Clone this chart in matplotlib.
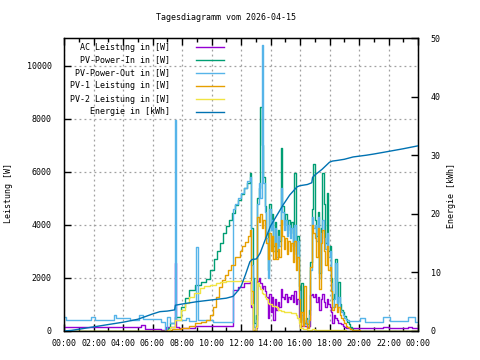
import numpy as np
import matplotlib
matplotlib.use('Agg')
import matplotlib.pyplot as plt
from matplotlib.lines import Line2D

plt.rcParams['font.family'] = ['DejaVu Sans Mono']
plt.rcParams['font.size'] = 6

#
# Data (hours of day)
#
title = 'Tagesdiagramm vom 2026-04-15'
labels = ['AC Leistung in [W]', 'PV-Power-In in [W]', 'PV-Power-Out in [W]',
          'PV-1 Leistung in [W]', 'PV-2 Leistung in [W]', 'Energie in [kWh]']
colors = ['#9400d3', '#009e73', '#56b4e9', '#e69f00', '#f0e442', '#0072b2']
xtick_labels = ['00:00', '02:00', '04:00', '06:00', '08:00', '10:00', '12:00',
                '14:00', '16:00', '18:00', '20:00', '22:00', '00:00']

# common midday time grid 12.6 .. 19.5 h
t_mid = np.round(np.arange(12.6, 19.55, 0.1), 2)

# AC Leistung
ac_t0 = [0, 5.2, 5.5, 6.6, 6.9, 7.5, 7.62, 7.8, 8.9, 11.43, 11.8, 12.2]
ac_v0 = [160, 210, 80, 20, 160, 2550, 160, 100, 190, 1550, 1650, 1800]
ac_mid = [1900, 900, 0, 0, 100, 1900, 2000, 1800, 1600, 1700, 1500, 1300, 500, 1400, 700, 1300, 400,
          1200, 800, 1100, 900, 1600, 1300, 1200, 1400, 1100, 1300, 1200, 1350, 1100, 1500, 1000, 1200, 400,
          200, 200, 250, 200, 200, 150, 200, 1350, 1400, 1300, 1400, 1100, 1300, 800, 1200, 1400, 1100, 900,
          1200, 1000, 900, 700, 300, 600, 500, 400, 300, 300, 250, 200, 150, 130, 125, 125, 125, 125]
ac_t1 = [19.6, 21.6, 22.0, 23.3, 23.6, 24.0]
ac_v1 = [125, 160, 110, 160, 110, 110]

# PV-Power-In
pin_t0 = [0, 7.05, 7.2, 7.5, 7.9, 8.2, 8.5, 8.9, 9.3, 9.6, 9.9, 10.2, 10.4, 10.6, 10.8, 11.0,
          11.2, 11.4, 11.6, 11.8, 12.0, 12.2, 12.4]
pin_v0 = [0, 100, 300, 540, 920, 1250, 1550, 1740, 1850, 1950, 2300, 2700, 3000, 3300, 3700, 3950,
          4200, 4450, 4750, 4950, 5150, 5400, 5600]
pin_mid = [5950, 3900, 2000, 300, 600, 5000, 5400, 8460, 7000, 5800, 4700, 3700, 2300, 4800, 4000, 4400, 3200,
           4100, 3000, 3800, 3400, 6900, 4700, 4000, 4400, 3800, 4200, 3700, 4100, 3200, 5960, 2900, 3600, 1700,
           350, 1800, 400, 300, 500, 250, 800, 2600, 4600, 6300, 4200, 3600, 4500, 2200, 3900, 5960, 4800, 3300,
           5200, 3000, 3200, 2000, 1200, 1400, 2700, 1100, 1860, 1000, 800, 700, 550, 450, 350, 250, 150, 80]
pin_t1 = [19.6, 19.8, 20.0, 24.0]
pin_v1 = [50, 20, 0, 0]

# PV-Power-Out
pout_t0 = [0, 0.15, 1.8, 2.1, 3.4, 3.55, 4.5, 5.1, 5.35, 6.2, 6.6, 6.85, 7.0, 7.2, 7.5, 7.62, 8.3,
           8.5, 8.93, 9.07, 10.1, 11.43, 11.6, 11.8, 12.0, 12.2, 12.4]
pout_v0 = [540, 430, 540, 430, 620, 480, 430, 600, 460, 440, 330, 0, 540, 300, 7950, 400, 500,
           380, 3180, 400, 350, 4600, 4800, 5000, 5200, 5400, 5650]
pout_mid = [5800, 2500, 250, 150, 400, 4800, 5600, 5000, 10800, 5600, 4500, 3500, 2000, 4600, 3800, 4200, 3000,
            3900, 2800, 3600, 3200, 5400, 4500, 3800, 4200, 3600, 4000, 3500, 3900, 3000, 4000, 2700, 3400, 1500,
            300, 600, 300, 250, 400, 200, 600, 2300, 4300, 3900, 4000, 3400, 4300, 2000, 3700, 4200, 3500, 3100,
            3700, 2800, 3000, 1800, 900, 1200, 2570, 900, 1300, 800, 700, 600, 500, 420, 400, 380, 370, 360]
pout_t1 = [19.6, 20.07, 20.4, 21.6, 22.1, 23.3, 23.8, 24.0]
pout_v1 = [360, 500, 350, 540, 380, 540, 350, 350]

# PV-1
pv1_t0 = [0, 7.0, 7.3, 7.9, 8.5, 8.9, 9.3, 9.6, 9.9, 10.1, 10.3, 10.5, 10.7, 10.9, 11.1, 11.3,
          11.6, 11.9, 12.1, 12.3, 12.5]
pv1_v0 = [0, 30, 60, 100, 200, 290, 350, 415, 600, 920, 1300, 1650, 1920, 2100, 2300, 2500,
          2800, 3000, 3200, 3350, 3600]
pv1_mid = [3800, 1500, 50, 0, 200, 4300, 4100, 4400, 3900, 4200, 3500, 3300, 2700, 3700, 3000, 3600, 2700,
           3300, 2700, 3100, 2800, 4200, 3600, 3100, 3500, 2900, 3400, 3000, 3300, 2600, 3400, 2300, 2800, 1200,
           150, 700, 200, 1700, 300, 100, 400, 2400, 4000, 3700, 3500, 2800, 3900, 1600, 3300, 3800, 3000, 2500,
           3200, 2300, 2400, 1500, 800, 900, 1000, 700, 900, 600, 500, 400, 300, 200, 150, 100, 60, 30]
pv1_t1 = [19.6, 20.1, 24.0]
pv1_v1 = [20, 0, 0]

# PV-2
pv2_t0 = [0, 7.05, 7.2, 7.5, 7.9, 8.2, 8.5, 8.8, 9.2, 9.5, 9.9, 10.3, 10.6, 11.0, 11.5, 12.0, 12.3]
pv2_v0 = [0, 50, 150, 415, 790, 1050, 1300, 1450, 1610, 1700, 1740, 1820, 1860, 1880, 1900, 1880, 1900]
pv2_mid = [1900, 1000, 0, 0, 150, 1800, 1700, 1600, 1450, 1400, 1300, 1200, 1050, 1000, 1000, 950, 950,
           950, 900, 800, 780, 750, 750, 720, 720, 700, 700, 700, 690, 680, 680, 600, 500, 300,
           100, 100, 80, 60, 60, 50, 50, 50, 60, 60, 50, 50, 50, 50, 50, 50, 50, 40,
           40, 40, 40, 40, 40, 30, 30, 30, 30, 30, 20, 20, 20, 10, 10, 0, 0, 0]
pv2_t1 = [19.6, 24.0]
pv2_v1 = [0, 0]

# Energie (kWh, right axis)
en_t = [0, 0.5, 1, 2, 3, 4, 5, 6, 6.5, 7.0, 7.5, 7.55, 8, 9, 10, 11, 11.45, 11.7, 12.0, 12.3, 12.6,
        12.75, 13.05, 13.3, 13.6, 14.0, 14.4, 14.85, 15.3, 15.8, 16.0, 16.5, 16.8, 16.85, 17.0, 17.5,
        18.0, 18.2, 18.5, 19.0, 19.6, 20.5, 21.0, 21.9, 23.0, 24.0]
en_v = [0, 0.1, 0.3, 0.7, 1.1, 1.5, 2.0, 2.9, 3.3, 3.4, 3.6, 4.4, 4.6, 5.0, 5.3, 5.6, 5.9, 6.6, 7.6, 9.6, 11.8,
        12.2, 12.3, 13.3, 15.3, 17.9, 19.6, 21.5, 23.2, 24.6, 24.8, 25.0, 25.3, 26.2, 26.6, 27.6,
        28.8, 29.0, 29.1, 29.3, 29.7, 30.0, 30.2, 30.6, 31.1, 31.6]

series = [
    (ac_t0, ac_v0, ac_mid, ac_t1, ac_v1),
    (pin_t0, pin_v0, pin_mid, pin_t1, pin_v1),
    (pout_t0, pout_v0, pout_mid, pout_t1, pout_v1),
    (pv1_t0, pv1_v0, pv1_mid, pv1_t1, pv1_v1),
    (pv2_t0, pv2_v0, pv2_mid, pv2_t1, pv2_v1),
]

#
# Plotting
#
fig = plt.figure(figsize=(4.8, 3.6), dpi=100)
ax = fig.add_axes([64/480, 29/360, 354/480, 293/360])

for (t0, v0, vm, t1, v1), c in zip(series, colors[:5]):
    t = np.concatenate([t0, t_mid, t1])
    v = np.concatenate([v0, vm, v1])
    ax.step(t, v, where='post', color=c, lw=1.0)

ax.set_xlim(0, 24)
ax.set_ylim(0, 11050)
ax.set_xticks(np.arange(0, 25, 2))
ax.set_xticklabels(xtick_labels)
ax.set_xticks(np.arange(0, 25, 1), minor=True)
ax.set_yticks(np.arange(0, 10001, 2000))
ax.tick_params(which='major', direction='in', length=5, width=1, top=True, pad=6)
ax.tick_params(axis='y', pad=9)
ax.tick_params(which='minor', direction='in', length=3, width=1, top=True)
ax.grid(True, which='major', color='#a0a0a0', linestyle=(0, (1.5, 2.5)), lw=0.9)
for s in ax.spines.values():
    s.set_linewidth(1.0)

ax2 = ax.twinx()
ax2.plot(en_t, en_v, color=colors[5], lw=1.0)
ax2.set_ylim(0, 50)
ax2.set_yticks(np.arange(0, 51, 10))
ax2.tick_params(direction='in', length=5, width=1, pad=9)

fig.text(226/480, 1 - 17/360, title, ha='center', va='center')
fig.text(9/480, 1 - 193/360, 'Leistung [W]', rotation=90, ha='center', va='center')
fig.text(451/480, 1 - 195/360, 'Energie [kWh]', rotation=90, ha='center', va='center')

# legend, text right aligned with line sample
for i, (lab, c) in enumerate(zip(labels, colors)):
    y = 1 - (47 + 13*i)/360
    fig.text(170/480, y, lab, ha='right', va='center')
    fig.add_artist(Line2D([196/480, 224/480], [y, y], color=c, lw=1.0))

fig.savefig('out.png', dpi=100)
